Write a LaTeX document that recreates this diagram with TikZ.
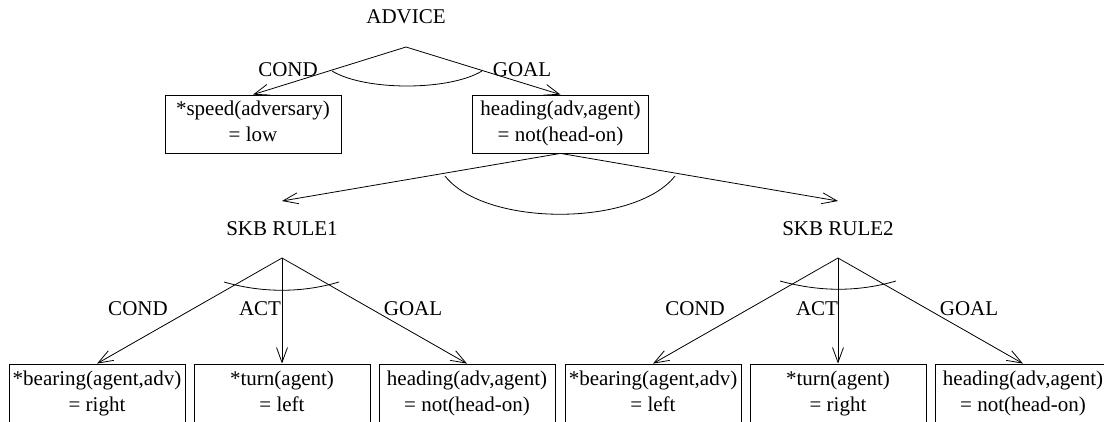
\documentclass[tikz,border=0pt]{standalone}
\usepackage{fontspec}
\setmainfont{Liberation Serif}
\usetikzlibrary{arrows.meta}
\newcommand\myTS{\rule{0pt}{15pt}}
\newcommand\myBS{\rule[-6pt]{0pt}{6pt}}
\begin{document}
\begin{tikzpicture}[x=1pt,y=-1pt, line width=0.8pt,
  every node/.style={font=\fontsize{21}{26}\selectfont},
  box/.style={draw, minimum width=176pt, minimum height=58pt, inner sep=0pt, align=center},
  lowbox/.style={box, minimum height=60pt},
  lbl/.style={anchor=base, inner sep=0pt},
  arr/.style={-{Straight Barb[length=15pt,width=11pt]}},
  ttl/.style={anchor=base, inner sep=0pt, outer sep=0pt, text height=34pt, text depth=23pt}]
\useasboundingbox (0,0) rectangle (1104,421);

% top level
\node[ttl, text depth=24pt] (advice) at (406,23) {ADVICE};
\node[box] (b1) at (253,124) {\myTS*speed(adversary)\\= low\myBS};
\node[box] (b2) at (560.5,124) {\myTS heading(adv,agent)\\= not(head-on)\myBS};
\draw[arr] (advice.south) -- (b1.north);
\draw[arr] (advice.south) -- (b2.north);
\node[lbl] (c0) at (288,76) {COND};
\node[lbl] (g0) at (522,76) {GOAL};
\draw (332,71) .. controls (365,91) and (449,91) .. (482,71);

% rules
\node[ttl] (skb1) at (282,235) {SKB RULE1};
\node[ttl] (skb2) at (838,235) {SKB RULE2};
\draw[arr] (b2.south) -- (skb1.north);
\draw[arr] (b2.south) -- (skb2.north);
\draw (445,176) .. controls (485,227) and (635,227) .. (675,176);

% rule 1
\node[lowbox] (l1) at (97,394) {\myTS*bearing(agent,adv)\\= right\myBS};
\node[lowbox] (l2) at (282,394) {\myTS*turn(agent)\\= left\myBS};
\node[lowbox] (l3) at (467,394) {\myTS heading(adv,agent)\\= not(head-on)\myBS};
\draw[arr] (skb1.south) -- (l1.north);
\draw[arr] (skb1.south) -- (l2.north);
\draw[arr] (skb1.south) -- (l3.north);
\node[lbl] (c1) at (138,315) {COND};
\node[lbl] (a1) at (260,315) {ACT};
\node[lbl] (g1) at (413,315) {GOAL};
\draw (224,282) .. controls (262,293) and (302,293) .. (339,282);

% rule 2
\node[lowbox] (r1) at (653,394) {\myTS*bearing(agent,adv)\\= left\myBS};
\node[lowbox] (r2) at (838,394) {\myTS*turn(agent)\\= right\myBS};
\node[lowbox] (r3) at (1023,394) {\myTS heading(adv,agent)\\= not(head-on)\myBS};
\draw[arr] (skb2.south) -- (r1.north);
\draw[arr] (skb2.south) -- (r2.north);
\draw[arr] (skb2.south) -- (r3.north);
\node[lbl] (c2) at (695,315) {COND};
\node[lbl] (a2) at (817,315) {ACT};
\node[lbl] (g2) at (969,315) {GOAL};
\draw (780,281) .. controls (820,292) and (858,292) .. (896,281);
\end{tikzpicture}
\end{document}
